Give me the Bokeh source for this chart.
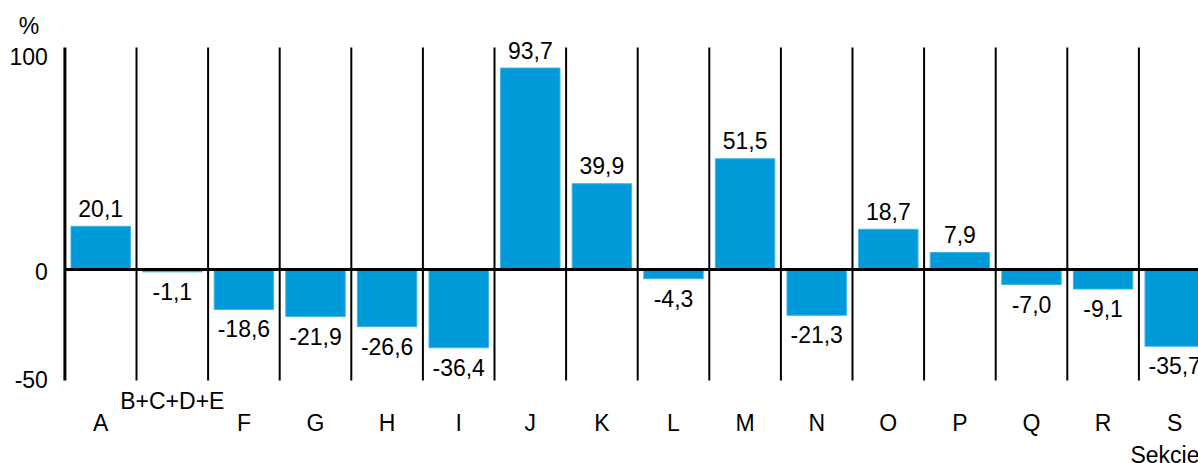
from bokeh.plotting import figure
from bokeh.models import Range1d, ColumnDataSource
from bokeh.core.properties import value
from bokeh.embed import file_html
from bokeh.resources import INLINE

# ---- data ----
categories = ["A", "B+C+D+E", "F", "G", "H", "I", "J", "K", "L", "M",
              "N", "O", "P", "Q", "R", "S"]
values = [20.1, -1.1, -18.6, -21.9, -26.6, -36.4, 93.7, 39.9, -4.3, 51.5,
          -21.3, 18.7, 7.9, -7.0, -9.1, -35.7]
y_ticks = [-50, 0, 100]
y_tick_labels = ["-50", "0", "100"]
y_unit = "%"
x_title = "Sekcje"

# ---- style / layout ----
FONT = "Liberation Sans"
FS = "23px"
BLUE = "#009ADA"
W, H = 1198, 463
AXIS_X_PX = 64.4      # left axis position in the canvas
ZERO_Y_PX = 269       # zero line position in the canvas
CAT_PX = 71.6         # pixels per category
UNIT_PX = 2.15        # pixels per percentage point
Y_LO, Y_HI = -51.6, 103.3   # extent of axis and separator lines

n = len(categories)
xs = [i + 0.5 for i in range(n)]
texts = [f"{v:.1f}".replace(".", ",") for v in values]
offs = [-18 if v >= 0 else 19.5 for v in values]
raised = [len(c) > 3 for c in categories]
cat_offs = [20.5 if r else 43 for r in raised]

x_start = -AXIS_X_PX / CAT_PX
x_end = (W - AXIS_X_PX) / CAT_PX
y_end = ZERO_Y_PX / UNIT_PX
y_start = -(H - ZERO_Y_PX) / UNIT_PX

p = figure(width=W, height=H, output_backend="svg", toolbar_location=None,
           x_range=Range1d(x_start, x_end), y_range=Range1d(y_start, y_end),
           x_axis_location=None, y_axis_location=None,
           min_border=0, min_border_left=0, min_border_right=0,
           min_border_top=0, min_border_bottom=0)
p.title.visible = False
p.outline_line_color = None
p.grid.visible = False
p.background_fill_color = "white"
p.border_fill_color = "white"

src = ColumnDataSource(dict(x=xs, top=values, label=texts, off=offs,
                            cat=categories, cat_off=cat_offs,
                            ylo=[Y_LO] * n))

# bars
p.vbar(x="x", top="top", bottom=0, width=0.83, source=src,
       fill_color=BLUE, line_color="#3FB3E6", line_width=1)

# category separators
bounds = list(range(1, n + 1))
p.segment(x0=bounds, y0=[Y_LO] * len(bounds), x1=bounds, y1=[Y_HI] * len(bounds),
          line_color="black", line_width=2)

# left axis line
p.segment(x0=[0], y0=[Y_LO], x1=[0], y1=[Y_HI], line_color="black", line_width=3)
# zero line
p.segment(x0=[0], y0=[0], x1=[x_end], y1=[0], line_color="black", line_width=3)

# value labels
p.text(x="x", y="top", text="label", source=src, y_offset="off",
       text_align="center", text_baseline="middle",
       text_font=value(FONT), text_font_size=FS, text_color="black")

# category labels
p.text(x="x", y="ylo", text="cat", source=src, y_offset="cat_off",
       text_align="center", text_baseline="middle",
       text_font=value(FONT), text_font_size=FS, text_color="black")

# y tick labels
p.text(x=[0] * len(y_ticks), y=y_ticks, text=y_tick_labels, x_offset=-17, y_offset=2,
       text_align="right", text_baseline="middle",
       text_font=value(FONT), text_font_size=FS, text_color="black")

# unit and axis title
p.text(x=[0], y=[Y_HI], text=[y_unit], x_offset=-36, y_offset=-21,
       text_align="center", text_baseline="middle",
       text_font=value(FONT), text_font_size=FS, text_color="black")
p.text(x=[x_end], y=[Y_LO], text=[x_title], x_offset=1, y_offset=75,
       text_align="right", text_baseline="middle",
       text_font=value(FONT), text_font_size=FS, text_color="black")

open("out.html", "w").write(file_html(p, INLINE))
